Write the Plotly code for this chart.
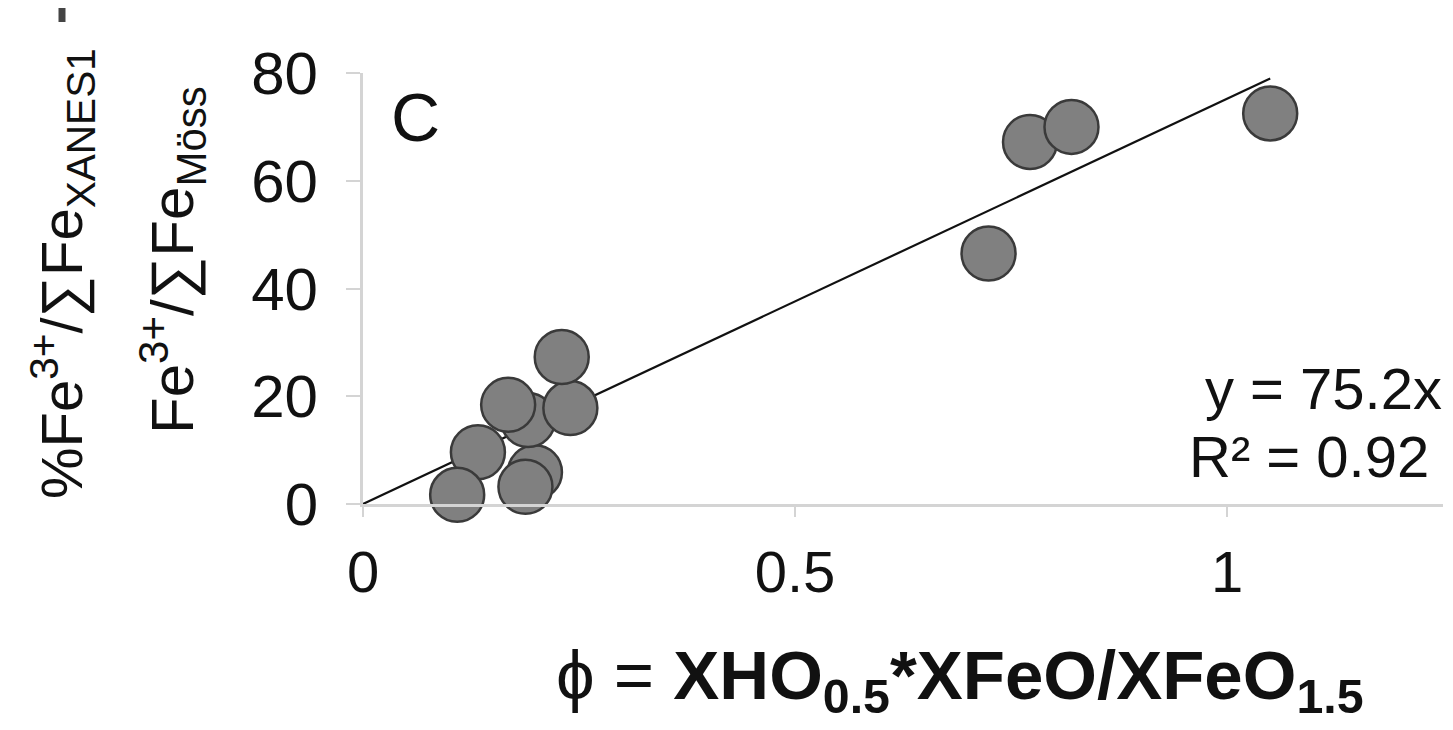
import plotly.graph_objects as go

# ---- data ----
phi = [0.199, 0.191, 0.240, 0.230, 0.168, 0.133, 0.109, 0.188,
       0.724, 0.772, 0.820, 1.050]
fe3 = [5.9, 15.6, 17.8, 27.3, 18.4, 9.6, 1.7, 3.2,
       46.5, 67.2, 70.0, 72.5]
slope = 75.2
r2 = 0.92
x_ticks = [0, 0.5, 1]
x_ticklabels = ["0", "0.5", "1"]
y_ticks = [0, 20, 40, 60, 80]

# ---- layout geometry (page pixels; the page body adds an 8px offset) ----
OFF = 8
W, H = 1453 - OFF, 730 - OFF
PL, PR, PT, PB = 363, 1443, 73, 504   # plot area in page pixels


def px(xp):
    return (xp - PL) / (PR - PL)


def py(yp):
    return (PB - yp) / (PB - PT)


FONT = "Liberation Sans, Arial, sans-serif"
AXIS_COL = "#d4d4d4"
TXT = "#111111"

fig = go.Figure()

# trendline through origin
xs = [0, max(phi)]
fig.add_trace(go.Scatter(
    x=xs, y=[slope * v for v in xs], mode="lines",
    line=dict(color=TXT, width=2.2), hoverinfo="skip", showlegend=False,
    cliponaxis=False))

fig.add_trace(go.Scatter(
    x=phi, y=fe3, mode="markers",
    marker=dict(size=54, color="#808080", line=dict(color="#3a3a3a", width=2.5)),
    showlegend=False, cliponaxis=False))

fig.update_layout(
    width=W, height=H,
    margin=dict(l=PL - OFF, r=W - (PR - OFF), t=PT - OFF, b=H - (PB - OFF)),
    paper_bgcolor="white", plot_bgcolor="white",
    font=dict(family=FONT, color=TXT),
    xaxis=dict(range=[0, 1.25], tickvals=x_ticks, ticktext=x_ticklabels,
               showgrid=False, zeroline=False, showline=True,
               linecolor=AXIS_COL, linewidth=3, ticks="outside",
               ticklen=10, tickwidth=2, tickcolor=AXIS_COL,
               tickfont=dict(size=58, color=TXT),
               ticklabelstandoff=5),
    yaxis=dict(range=[0, 80], tickvals=y_ticks,
               showgrid=False, zeroline=False, showline=True,
               linecolor=AXIS_COL, linewidth=3, ticks="outside",
               ticklen=14, tickwidth=2, tickcolor=AXIS_COL,
               tickfont=dict(size=60, color=TXT),
               ticklabelstandoff=16),
)

ann = []
# panel letter
ann.append(dict(text="C", xref="paper", yref="paper", x=px(415), y=py(117),
                xanchor="center", yanchor="middle", showarrow=False,
                font=dict(size=68, family=FONT, color=TXT)))
# equation
ann.append(dict(text=f"y = {slope}x", xref="paper", yref="paper",
                x=px(1444), y=py(388), xanchor="right", yanchor="middle",
                showarrow=False, font=dict(size=58, family=FONT, color=TXT)))
ann.append(dict(text=f"R² = {r2}", xref="paper", yref="paper",
                x=px(1431), y=py(456), xanchor="right", yanchor="middle",
                showarrow=False, font=dict(size=58, family=FONT, color=TXT)))
# x title
ann.append(dict(text="ϕ = <b>XHO<sub>0.5</sub>*XFeO/XFeO<sub>1.5</sub></b>",
                xref="paper", yref="paper", x=px(960), y=py(680),
                xanchor="center", yanchor="middle", showarrow=False,
                font=dict(size=69, family=FONT, color=TXT)))
# y titles (two rotated lines)
ann.append(dict(text="%Fe<sup>3+</sup>/∑Fe<sub>XANES1</sub>",
                xref="paper", yref="paper", x=px(62), y=py(273),
                xanchor="center", yanchor="middle", textangle=-90, showarrow=False,
                font=dict(size=58, family=FONT, color=TXT)))
ann.append(dict(text="Fe<sup>3+</sup>/∑Fe<sub>Möss</sub>",
                xref="paper", yref="paper", x=px(172), y=py(260),
                xanchor="center", yanchor="middle", textangle=-90, showarrow=False,
                font=dict(size=60, family=FONT, color=TXT)))
fig.update_layout(annotations=ann)

# small cropped fragment visible at the top-left edge of the reference
fig.add_shape(type="line", xref="paper", yref="paper",
              x0=px(62), x1=px(62), y0=py(5), y1=py(22),
              line=dict(color="#444444", width=7))

fig.write_html("out.html")
